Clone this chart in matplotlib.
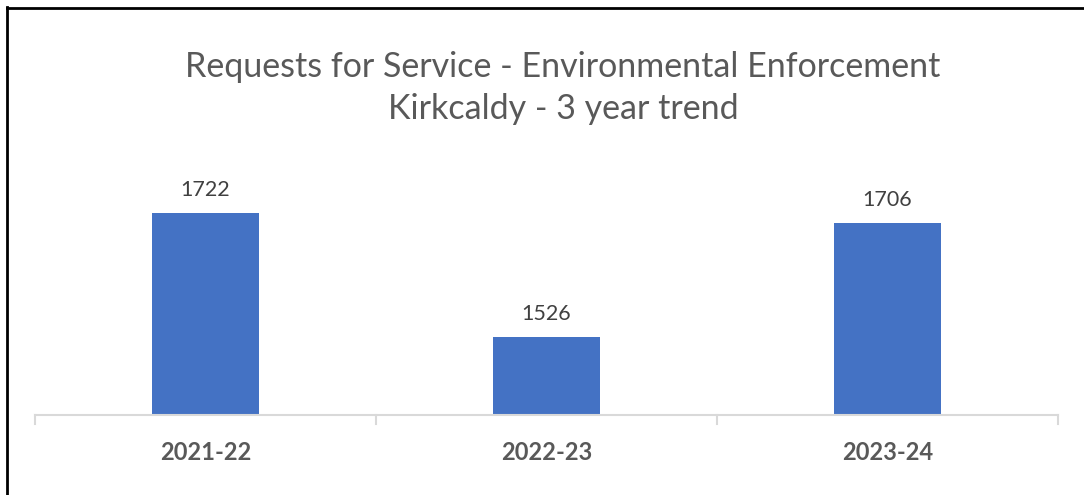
import matplotlib
matplotlib.use('Agg')
import matplotlib.pyplot as plt
from matplotlib.lines import Line2D

# Data
years = ['2021-22', '2022-23', '2023-24']
requests = [1722, 1526, 1706]

title = 'Requests for Service - Environmental Enforcement\nKirkcaldy - 3 year trend'

plt.rcParams['font.family'] = ['Lato', 'DejaVu Sans']

fig = plt.figure(figsize=(10.84, 4.95), dpi=100)
W, H = 1084, 495

# plot area in pixel coords: x 35..1058, y 195..415
ax = fig.add_axes([35 / W, (H - 415) / H, (1058 - 35) / W, (415 - 195) / H])

x = list(range(len(years)))
bars = ax.bar(x, requests, width=0.314, color='#4472C4', zorder=2)
ax.set_xlim(-0.5, len(years) - 0.5)
ax.set_ylim(1404, 1750)

for xi, v in zip(x, requests):
    ax.annotate(str(v), (xi, v), xytext=(0, 9.5), textcoords='offset points',
                ha='center', va='bottom', fontsize=15.5, color='#404040')

ax.set_xticks(x)
ax.set_xticklabels(years, fontsize=17, fontweight='bold', color='#595959')
ax.tick_params(axis='x', length=0, pad=19)
ax.set_yticks([])
for s in ['top', 'right', 'left']:
    ax.spines[s].set_visible(False)
ax.spines['bottom'].set_color('#D9D9D9')
ax.spines['bottom'].set_linewidth(1.5)

# category boundary ticks
for b in [-0.5, 0.5, 1.5, 2.5]:
    ax.plot([b, b], [0, -0.042], transform=ax.get_xaxis_transform(),
            color='#D9D9D9', lw=1.5, clip_on=False)

fig.text(563 / W, 1 - 88 / H, title, ha='center', va='center', fontsize=24.5,
         color='#595959', linespacing=1.38)

# screenshot border (left and top)
fig.add_artist(Line2D([7 / W, 7 / W], [0, 1 - 7 / H], color='black', lw=2))
fig.add_artist(Line2D([7 / W, 1], [1 - 8 / H, 1 - 8 / H], color='black', lw=2))

fig.savefig('out.png', dpi=100, facecolor='white')
